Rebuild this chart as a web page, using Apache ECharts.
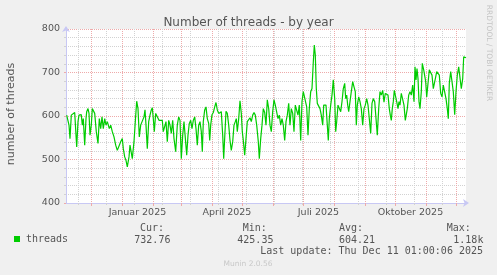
<!DOCTYPE html>
<html><head><meta charset="utf-8">
<script src="https://cdn.jsdelivr.net/npm/echarts@6/dist/echarts.min.js"></script>
<style>html,body{margin:0;padding:0;background:#f0f0f0}#c{width:497px;height:275px}</style>
</head><body><div id="c"></div>
<script>
// ---- data ----
const startTime = '2024-11-06T01:00:00Z';
const endTime = '2025-12-11T01:00:00Z';
// days after startTime
const dayOffsets = [
  0.7,1.3,3.0,4.0,5.3,7.3,8.7,10.0,10.7,12.0,
  13.0,14.0,15.3,16.3,17.3,18.7,20.0,20.7,22.0,23.0,
  24.0,25.3,26.3,27.3,28.7,30.3,32.0,33.3,34.7,36.0,
  37.3,38.7,40.0,41.3,42.3,43.3,44.7,46.3,48.0,49.7,
  51.3,53.0,54.7,56.3,57.3,58.7,60.0,61.3,63.0,64.0,
  65.3,66.3,68.0,69.3,70.7,72.0,73.3,74.7,76.3,78.0,
  79.0,80.0,81.3,82.7,84.0,85.3,86.3,87.3,88.3,89.7,
  91.3,93.0,94.7,96.3,97.3,98.7,100.0,101.3,102.7,104.0,
  105.3,106.7,108.0,109.7,111.3,112.7,114.0,115.3,116.7,118.0,
  119.7,120.7,122.0,123.3,124.7,126.0,127.3,128.7,130.0,131.3,
  132.7,134.0,135.3,136.3,137.3,138.7,140.0,141.3,142.7,143.7,
  144.7,146.0,147.3,148.7,150.0,151.3,152.7,154.0,155.3,156.7,
  157.7,
  160.0,161.3,162.7,164.0,165.3,166.7,168.0,169.3,170.3,171.3,
  172.7,174.0,175.3,176.3,177.3,178.7,180.0,181.3,182.7,184.0,
  185.3,186.7,188.0,189.3,190.7,192.3,193.3,194.7,196.0,197.3,
  198.7,200.0,201.3,202.7,204.0,205.3,206.7,208.0,209.3,210.7,
  212.0,213.3,214.7,216.0,217.3,218.7,220.0,221.3,222.7,224.0,
  225.3,226.7,228.0,229.3,230.7,232.0,233.3,234.7,236.0,237.3,
  239.3,240.7,242.0,243.3,244.7,246.0,247.3,248.3,249.3,250.3,
  251.3,252.7,254.0,255.3,256.7,257.7,258.7,260.0,261.3,262.3,
  263.3,264.7,266.0,267.3,268.7,269.7,270.7,272.0,273.3,274.7,
  276.0,277.3,278.7,279.7,280.7,281.7,282.7,284.0,285.3,286.7,
  288.0,289.3,290.3,291.3,292.7,294.0,295.3,296.7,298.0,299.3,
  300.7,302.0,303.3,304.7,306.0,307.3,308.7,310.0,311.3,312.7,
  314.0,315.3,316.7,318.0,
  319.3,320.7,322.0,323.3,324.3,325.3,326.3,327.3,328.3,329.3,
  330.7,332.0,333.0,334.0,335.3,336.7,338.0,339.3,340.3,341.3,
  342.7,344.0,345.3,346.7,348.0,349.0,350.0,351.0,352.0,353.0,
  354.0,355.3,356.3,357.7,358.7,359.7,360.7,362.0,363.3,364.7,
  366.0,367.3,368.7,369.7,370.7,372.0,373.3,374.7,376.0,377.3,
  378.7,380.0,381.3,382.3,383.3,384.7,386.0,387.3,388.7,390.0,
  391.3,392.7,394.0,395.3,396.7,397.7,399.0,400.0
];
const threads = [
  602,598,579,548,602,606,608,556,529,587,
  602,598,603,579,594,533,594,610,617,606,
  556,579,617,621,606,564,537,594,571,598,
  571,594,579,587,587,571,579,564,552,533,
  521,518,541,548,525,506,498,483,506,533,
  529,502,541,587,634,617,552,579,579,598,
  614,579,525,587,602,614,619,594,564,606,
  602,590,587,590,564,560,587,541,590,579,
  560,590,548,518,579,598,590,502,556,587,
  587,510,556,583,590,571,590,598,571,533,
  579,587,564,518,587,614,621,594,583,544,
  579,603,608,621,631,614,606,602,610,556,
  502,
  611,606,579,544,521,541,579,587,594,564,
  594,635,606,564,544,510,548,587,587,596,
  587,602,608,602,579,541,502,548,579,617,
  608,579,637,617,579,564,610,637,625,629,
  594,602,579,594,579,544,587,602,629,579,
  617,606,564,625,628,602,625,544,633,656,
  656,621,556,617,656,663,724,763,740,663,
  629,625,617,602,579,625,629,625,579,544,
  594,625,648,683,640,564,587,625,629,610,
  633,663,675,640,648,625,610,633,656,679,
  667,656,579,625,644,633,617,579,617,625,
  640,625,594,560,629,640,633,636,556,617,
  656,648,659,632,
  652,656,648,617,602,590,617,633,659,648,
  633,617,633,625,652,652,625,590,587,617,
  648,656,648,671,633,713,683,709,686,633,
  617,656,721,706,702,679,644,675,706,702,
  694,663,660,690,702,698,694,652,644,671,
  667,640,617,594,675,702,706,656,603,656,
  694,713,709,663,686,736,732,734
];
const monthStarts = ['2024-12-01','2025-01-01','2025-02-01','2025-03-01','2025-04-01','2025-05-01',
  '2025-06-01','2025-07-01','2025-08-01','2025-09-01','2025-10-01','2025-11-01','2025-12-01'];
const fourWeekMarks = ['2024-11-18','2024-12-16','2025-01-13','2025-02-10','2025-03-10','2025-04-07',
  '2025-05-05','2025-06-02','2025-06-30','2025-07-28','2025-08-25','2025-09-22','2025-10-20','2025-11-17'];
const labelDates = ['2025-01-16T12:00:00Z','2025-04-16T00:00:00Z','2025-07-16T12:00:00Z','2025-10-16T12:00:00Z'];
const labelNames = ['Januar 2025','April 2025','Juli 2025','Oktober 2025'];
const yMin = 400, yMax = 800, yStep = 100;
const seriesName = 'threads';
const statHeads = ['Cur:','Min:','Avg:','Max:'];
const statValues = ['732.76','425.35','604.21','1.18k'];
const lastUpdate = 'Last update: Thu Dec 11 01:00:06 2025';
const titleText = 'Number of threads - by year';
const yName = 'number of threads';

// ---- build ----
const day = 86400000;
const t0 = Date.parse(startTime), t1 = Date.parse(endTime);
const pd = s => Date.parse(s.length === 10 ? s + 'T00:00:00Z' : s);
const monthT = monthStarts.map(pd);
const minorT = fourWeekMarks.map(pd);
const labelT = labelDates.map(pd);
const data = dayOffsets.map((d, i) => [t0 + d * day, threads[i]]);

const RED = '#eeaaaa', GRAY = '#d2d2d2', AXIS = '#c8c8f4', TXT = '#555';
const SANS = '"DejaVu Sans", sans-serif', MONO = '"DejaVu Sans Mono", monospace';

const chart = echarts.init(document.getElementById('c'), null, {renderer: 'canvas'});
const baseX = {type: 'value', min: t0, max: t1, position: 'bottom', gridIndex: 0, scale: true};
const option = {
  animation: false,
  backgroundColor: '#f0f0f0',
  title: {text: titleText, left: 'center', top: 12,
    textStyle: {fontFamily: SANS, fontSize: 12, fontWeight: 'normal', color: TXT}},
  grid: {left: 66, top: 29, width: 400, height: 174, show: true, backgroundColor: '#fff', borderWidth: 0},
  xAxis: [
    Object.assign({}, baseX, {
      axisLine: {show: false}, axisLabel: {show: false},
      axisTick: {show: true, customValues: minorT, length: 2, lineStyle: {color: GRAY}},
      splitLine: {show: true, lineStyle: {color: GRAY, width: 1, type: [1, 1]}}
    }),
    Object.assign({}, baseX, {
      axisLine: {show: false}, axisLabel: {show: false},
      axisTick: {show: true, customValues: monthT, length: 3, lineStyle: {color: RED}},
      splitLine: {show: true, lineStyle: {color: RED, width: 1, type: [1, 1]}}
    }),
    Object.assign({}, baseX, {
      axisLine: {show: true, lineStyle: {color: AXIS, width: 1}, symbol: ['none', 'arrow'], symbolSize: [6, 6], symbolOffset: [0, 3]},
      axisTick: {show: false},
      splitLine: {show: false},
      axisLabel: {show: true, customValues: labelT, color: TXT, fontFamily: SANS, fontSize: 9.5, margin: 5,
        formatter: v => { const i = labelT.indexOf(v); return i >= 0 ? labelNames[i] : ''; }}
    })
  ],
  yAxis: {
    type: 'value', min: yMin, max: yMax, interval: yStep,
    axisLine: {show: true, lineStyle: {color: AXIS, width: 1}, symbol: ['none', 'arrow'], symbolSize: [6, 6], symbolOffset: [0, 3]},
    axisTick: {show: true, length: 2, lineStyle: {color: RED}},
    minorTick: {show: true, splitNumber: 5, length: 2, lineStyle: {color: GRAY}},
    splitLine: {show: true, lineStyle: {color: RED, width: 1, type: [1, 1]}},
    minorSplitLine: {show: true, lineStyle: {color: GRAY, width: 1, type: [1, 1]}},
    axisLabel: {color: TXT, fontFamily: SANS, fontSize: 9.5, margin: 6}
  },
  legend: {data: [seriesName], left: 14, top: 234, padding: 0, itemWidth: 6, itemHeight: 6, icon: 'rect',
    textStyle: {fontFamily: MONO, fontSize: 10, color: TXT, padding: [0, 0, 0, 1]}},
  series: [{
    name: seriesName, type: 'line', xAxisIndex: 2, data: data, showSymbol: false, symbol: 'none',
    lineStyle: {color: '#00cc00', width: 1.2}, itemStyle: {color: '#00cc00'}, clip: true
  }],
  graphic: [
    {type: 'text', x: 11.5, y: 114, rotation: Math.PI / 2,
      style: {text: yName, font: '11px ' + SANS, fill: TXT, align: 'center', verticalAlign: 'middle'}},
    {type: 'text', x: 489, y: 53, rotation: -Math.PI / 2,
      style: {text: 'RRDTOOL / TOBI OETIKER', font: '7.5px ' + SANS, fill: '#c4c4c4', align: 'center', verticalAlign: 'middle'}},
    ...statHeads.map((s, i) => ({type: 'text', x: [140, 242.7, 339, 446.7][i], y: 228,
      style: {text: s, font: '10px ' + MONO, fill: TXT, align: 'left', verticalAlign: 'middle'}})),
    ...statValues.map((s, i) => ({type: 'text', x: [134.3, 237.3, 339, 453.3][i], y: 240,
      style: {text: s, font: '10px ' + MONO, fill: TXT, align: 'left', verticalAlign: 'middle'}})),
    {type: 'text', x: 483, y: 251.5,
      style: {text: lastUpdate, font: '10px ' + MONO, fill: TXT, align: 'right', verticalAlign: 'middle'}},
    {type: 'text', x: 248, y: 264,
      style: {text: 'Munin 2.0.56', font: '7.5px ' + SANS, fill: '#c8c8c8', align: 'center', verticalAlign: 'middle'}}
  ]
};
chart.setOption(option);
</script>
</body></html>
